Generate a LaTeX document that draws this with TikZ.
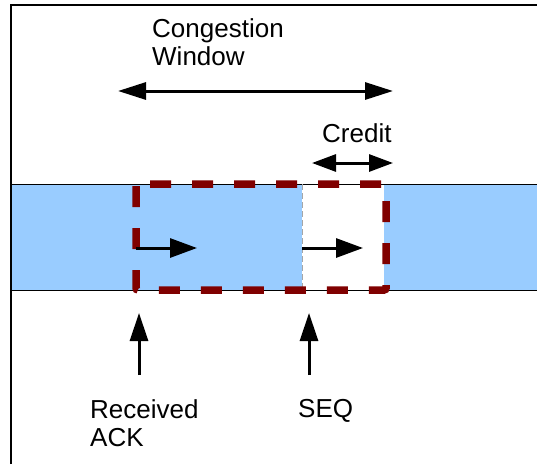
\documentclass[tikz,border=0pt]{standalone}
\usepackage{fontspec}
\setmainfont{Liberation Sans}
\usetikzlibrary{arrows.meta}
\definecolor{bandblue}{HTML}{99CCFF}
\definecolor{winred}{HTML}{800000}

\begin{document}
\begin{tikzpicture}[
  x=1pt,y=-1pt,
  lbl/.style={anchor=north west,inner sep=0pt,align=left,font=\fontsize{26}{28}\selectfont},
  frame/.style={line width=2pt},
  edge/.style={line width=0.8pt},
  uparrow/.style={line width=3pt,-{Triangle[length=28pt,width=18pt]}},
  segarrow/.style={line width=3pt,-{Triangle[length=27pt,width=19pt]}},
  span/.style={line width=3pt,{Triangle[length=28pt,width=17pt]}-{Triangle[length=28pt,width=17pt]}},
  window/.style={draw=winred,line width=7.5pt,dash pattern=on 21pt off 21pt,rounded corners=2pt},
]
\useasboundingbox (0,0) rectangle (537,464);

% band of packets
\fill[bandblue] (11,184) rectangle (537,290);
\fill[white] (302,184) rectangle (384,290);
\draw[edge] (11,184) -- (537,184);
\draw[edge] (11,290) -- (537,290);
\draw[gray!70,line width=0.8pt,dash pattern=on 6pt off 3pt] (302,184) -- (302,290);

% frame
\draw[frame] (11,464) -- (11,5) -- (537,5);

% sliding window
\draw[window] (136,184) rectangle (386,290);

% arrows inside the band
\coordinate (ackseg) at (136,248);
\coordinate (ackend) at (197,248);
\coordinate (seqseg) at (302,248);
\coordinate (seqend) at (363,248);
\draw[segarrow] (ackseg) -- (ackend);
\draw[segarrow] (seqseg) -- (seqend);

% labels
\node[lbl] (cwnd) at (152,18) {Congestion\\Window};
\node[lbl] (credit) at (322,123) {Credit};
\node[lbl] (ack) at (90,399) {Received\\ACK};
\node[lbl] (seq) at (298,399) {SEQ};

% spans
\coordinate (cwL) at (118,91);
\coordinate (cwR) at (393,91);
\coordinate (crL) at (312,163);
\coordinate (crR) at (393,163);
\draw[span] (cwL) -- (cwR);
\draw[span,{Triangle[length=24pt,width=17pt]}-{Triangle[length=24pt,width=17pt]}] (crL) -- (crR);

% pointers
\coordinate (ackT) at (139,375);
\coordinate (ackH) at (139,313);
\coordinate (seqT) at (309,375);
\coordinate (seqH) at (309,313);
\draw[uparrow] (ackT) -- (ackH);
\draw[uparrow] (seqT) -- (seqH);
\end{tikzpicture}
\end{document}
